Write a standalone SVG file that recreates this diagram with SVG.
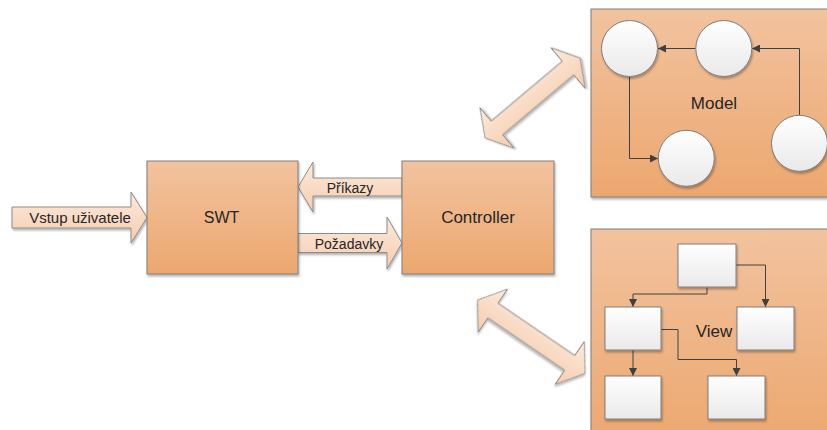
<svg xmlns="http://www.w3.org/2000/svg" width="827" height="430" viewBox="0 0 827 430">
  <defs>
    <linearGradient id="boxFill" x1="0" y1="0" x2="0" y2="1">
      <stop offset="0" stop-color="#F2C39F"/>
      <stop offset="1" stop-color="#ECA76F"/>
    </linearGradient>
    <linearGradient id="arrowFill" x1="0" y1="0" x2="0" y2="1">
      <stop offset="0" stop-color="#FCEADC"/>
      <stop offset="1" stop-color="#F6CCAE"/>
    </linearGradient>
    <linearGradient id="nodeFill" x1="0" y1="0" x2="0" y2="1">
      <stop offset="0" stop-color="#FFFFFF"/>
      <stop offset="1" stop-color="#E9E9E9"/>
    </linearGradient>
    <filter id="shadow" x="-10%" y="-10%" width="130%" height="130%">
      <feDropShadow dx="1" dy="2" stdDeviation="1.2" flood-color="#000" flood-opacity="0.3"/>
    </filter>
    <marker id="tri" viewBox="0 0 10 10" refX="10" refY="5" markerWidth="8" markerHeight="8" markerUnits="userSpaceOnUse" orient="auto">
      <path d="M0,0 L10,5 L0,10 Z" fill="#404040"/>
    </marker>
    <style>
      .box { fill: url(#boxFill); stroke: #7F7F7F; stroke-width: 1; filter: url(#shadow); }
      .arrow { fill: url(#arrowFill); stroke: #8C8C8C; stroke-width: 1; filter: url(#shadow); }
      .node { fill: url(#nodeFill); stroke: #7F7F7F; stroke-width: 1; filter: url(#shadow); }
      .link { fill: none; stroke: #404040; stroke-width: 1; marker-end: url(#tri); }
      .label { font-family: "Liberation Sans", Arial, sans-serif; fill: #262626; text-anchor: middle; dominant-baseline: central; }
    </style>
  </defs>

  <!-- block arrows between the main parts -->
  <g id="connectors">
    <g id="arrow-input">
      <polygon class="arrow" points="12,207 131,207 131,192 147,217.5 131,243 131,228 12,228"/>
      <text class="label" x="80" y="217" font-size="15">Vstup uživatele</text>
    </g>
    <g id="arrow-commands">
      <polygon class="arrow" points="402,178 313,178 313,162 298,187 313,212 313,196 402,196"/>
      <text class="label" x="350" y="187.5" font-size="14">Příkazy</text>
    </g>
    <g id="arrow-requests">
      <polygon class="arrow" points="298,233.5 387,233.5 387,217 402,243 387,269 387,252.5 298,252.5"/>
      <text class="label" x="349" y="244" font-size="14">Požadavky</text>
    </g>
    <g id="arrow-model" transform="translate(532.5 98) rotate(-40.1)">
      <polygon class="arrow" points="62,0 46.5,-26.5 46.5,-9 -46.5,-9 -46.5,-26.5 -62,0 -46.5,26.5 -46.5,9 46.5,9 46.5,26.5"/>
    </g>
    <g id="arrow-view" transform="translate(531.3 336.7) rotate(34.3)">
      <polygon class="arrow" points="65,0 46.5,-26 46.5,-9 -46.5,-9 -46.5,-26 -65,0 -46.5,26 -46.5,9 46.5,9 46.5,26"/>
    </g>
  </g>

  <g id="swt">
    <rect class="box" x="147" y="161" width="151" height="113"/>
    <text class="label" x="221.5" y="217" font-size="16">SWT</text>
  </g>

  <g id="controller">
    <rect class="box" x="402" y="161" width="152" height="113"/>
    <text class="label" x="478" y="217.5" font-size="17">Controller</text>
  </g>

  <!-- Model panel with its object graph -->
  <g id="model">
    <rect class="box" x="591" y="9" width="245" height="188"/>
    <text class="label" x="714" y="103" font-size="17">Model</text>
    <g id="model-links">
      <path class="link" d="M695.5,48.5 H658"/>
      <path class="link" d="M799.5,115 V48.5 H752"/>
      <path class="link" d="M629.5,77 V158.5 H658"/>
    </g>
    <circle id="model-n1" class="node" cx="629.5" cy="48.5" r="28"/>
    <circle id="model-n2" class="node" cx="723.8" cy="48.5" r="28"/>
    <circle id="model-n3" class="node" cx="686.3" cy="158.3" r="28"/>
    <circle id="model-n4" class="node" cx="799.5" cy="143.3" r="28"/>
  </g>

  <!-- View panel with its component tree -->
  <g id="view">
    <rect class="box" x="591" y="229" width="245" height="215"/>
    <text class="label" x="714" y="331" font-size="17">View</text>
    <g id="view-links">
      <path class="link" d="M707,287.5 V294 H633 V307"/>
      <path class="link" d="M736,265 H765.5 V307"/>
      <path class="link" d="M633,350 V376"/>
      <path class="link" d="M661,329.5 H678 V359.5 H736.5 V376"/>
    </g>
    <rect id="view-n1" class="node" x="678" y="244" width="58" height="43"/>
    <rect id="view-n2" class="node" x="605" y="307" width="56" height="43"/>
    <rect id="view-n3" class="node" x="737" y="307" width="57" height="43"/>
    <rect id="view-n4" class="node" x="605" y="376" width="56" height="43"/>
    <rect id="view-n5" class="node" x="708" y="376" width="57" height="43"/>
  </g>
</svg>
